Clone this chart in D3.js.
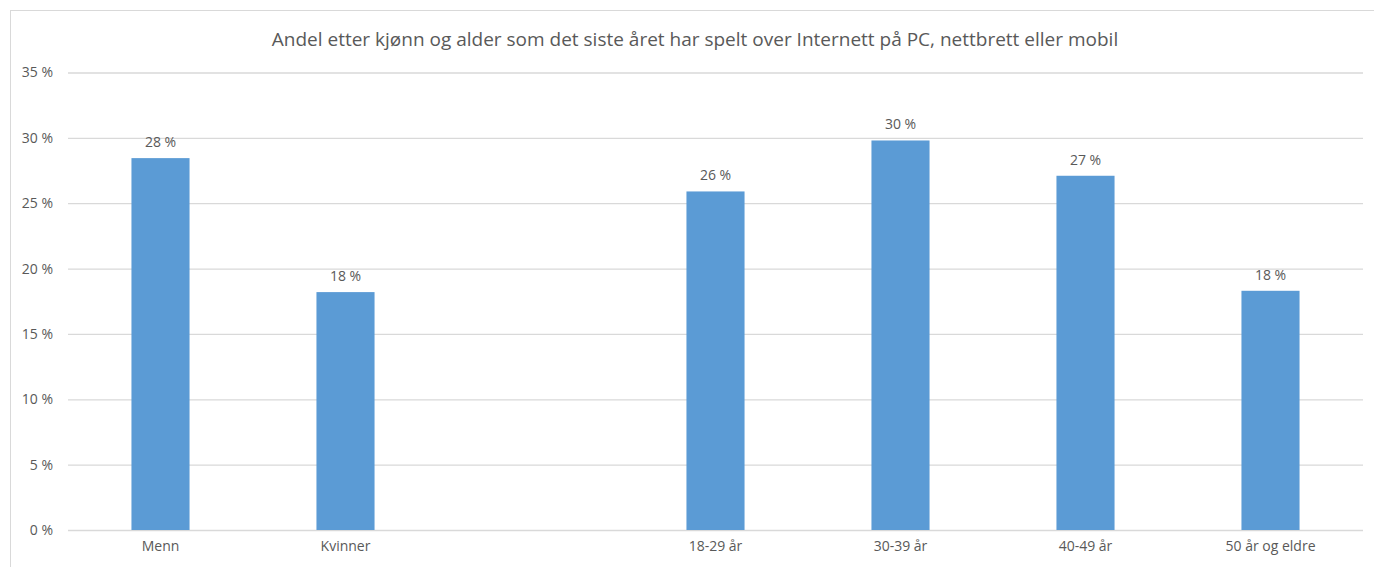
<!DOCTYPE html>
<html>
<head>
<meta charset="utf-8">
<script src="https://cdn.jsdelivr.net/npm/d3@7"></script>
<style>
  body { margin: 0; background: #fff; }
  text { font-family: "Open Sans", "Noto Sans", sans-serif; fill: #595959; }
</style>
</head>
<body>
<div class="visualisation"></div>
<script>
var categories = ["Menn", "Kvinner", "", "18-29 år", "30-39 år", "40-49 år", "50 år og eldre"];
var values = [28.45, 18.2, null, 25.9, 29.8, 27.1, 18.3];
var labels = ["28 %", "18 %", "", "26 %", "30 %", "27 %", "18 %"];
var yTicks = [0, 5, 10, 15, 20, 25, 30, 35];
var title = "Andel etter kjønn og alder som det siste året har spelt over Internett på PC, nettbrett eller mobil";

var margin = {top: 72.5, right: 11, bottom: 37, left: 68},
	width = 1374 - margin.left - margin.right,
	height = 567 - margin.top - margin.bottom;

var root = d3.select(".visualisation").append("svg")
	.attr("width", 1374)
	.attr("height", 567);

// chart frame
root.append("rect")
	.attr("x", 10.5).attr("y", 10.5)
	.attr("width", 1370).attr("height", 600)
	.attr("fill", "none")
	.attr("stroke", "#d9d9d9");

root.append("text")
	.attr("x", 695)
	.attr("y", 46)
	.attr("text-anchor", "middle")
	.style("font-size", "19px")
	.text(title);

var svg = root.append("g")
	.attr("transform", "translate(" + margin.left + "," + margin.top + ")");

var x = d3.scaleBand()
	.domain(categories)
	.range([0, width])
	.paddingInner(0.686)
	.paddingOuter(0.343);

var y = d3.scaleLinear().domain([0, 35]).range([height, 0]);

var yAxis = svg.append("g")
	.call(d3.axisLeft(y).tickValues(yTicks).tickSize(-width).tickFormat(d => d + " %"));
yAxis.select(".domain").remove();
yAxis.selectAll("line").attr("stroke", "#d9d9d9").attr("stroke-width", 1.3);
yAxis.selectAll("text").attr("x", -15).style("font-size", "14px").style("fill", "#595959");

var xAxis = svg.append("g")
	.attr("transform", "translate(0," + height + ")")
	.call(d3.axisBottom(x).tickSize(0).tickPadding(11));
xAxis.select(".domain").remove();
xAxis.selectAll("text").style("font-size", "14px").style("fill", "#595959");

var data = categories.map((c, i) => ({cat: c, value: values[i], label: labels[i]}))
	.filter(d => d.value != null);

svg.selectAll(".bar").data(data).enter()
	.append("rect")
	.attr("class", "bar")
	.attr("x", d => x(d.cat))
	.attr("width", x.bandwidth())
	.attr("y", d => y(d.value))
	.attr("height", d => height - y(d.value))
	.attr("fill", "#5b9bd5");

svg.selectAll(".lbl").data(data).enter()
	.append("text")
	.attr("class", "lbl")
	.attr("x", d => x(d.cat) + x.bandwidth() / 2)
	.attr("y", d => y(d.value) - 11)
	.attr("text-anchor", "middle")
	.style("font-size", "14px")
	.text(d => d.label);
</script>
</body>
</html>
